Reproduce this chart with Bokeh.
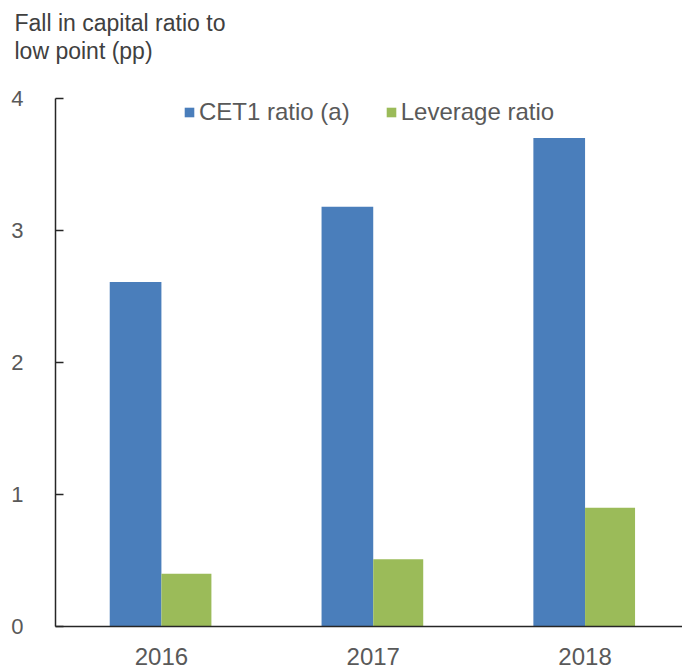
from bokeh.plotting import figure
from bokeh.models import (ColumnDataSource, Range1d, FixedTicker, Legend, LegendItem, Title)
from bokeh.transform import dodge
from bokeh.embed import file_html
from bokeh.resources import INLINE

# ---- data ----
years = ["2016", "2017", "2018"]
cet1_ratio = [2.61, 3.18, 3.70]
leverage_ratio = [0.40, 0.51, 0.90]
y_ticks = [0, 1, 2, 3, 4]
title_text = "Fall in capital ratio to\nlow point (pp)\n"

BLUE = "#4A7EBB"
GREEN = "#9BBB59"
AXIS = "#262626"
TEXT = "#595959"
FONT = "Liberation Sans"

xpos = [i + 0.5 for i in range(len(years))]
src = ColumnDataSource(dict(x=xpos, year=years, cet1=cet1_ratio, lev=leverage_ratio))

p = figure(width=682, height=671, output_backend="svg", toolbar_location=None,
           x_range=Range1d(0, 2.96), y_range=Range1d(0, 4),
           min_border_left=55, min_border_right=0, min_border_top=97, min_border_bottom=45)
p.outline_line_color = None
p.xgrid.visible = False
p.ygrid.visible = False

r1 = p.vbar(x=dodge("x", -0.122, range=p.x_range), top="cet1", width=0.244, source=src,
            fill_color=BLUE, line_color=None)
r2 = p.vbar(x=dodge("x", 0.118, range=p.x_range), top="lev", width=0.236, source=src,
            fill_color=GREEN, line_color=None)

# y axis
ya = p.yaxis[0]
ya.ticker = FixedTicker(ticks=y_ticks)
ya.axis_line_color = AXIS
ya.axis_line_width = 1.5
ya.major_tick_in = 8
ya.major_tick_out = 0
ya.major_tick_line_color = AXIS
ya.major_tick_line_width = 1.5
ya.minor_tick_line_color = None
ya.major_label_text_font = FONT
ya.major_label_text_font_size = "22px"
ya.major_label_text_color = TEXT
ya.major_label_standoff = 32

# x axis
xa = p.xaxis[0]
xa.ticker = FixedTicker(ticks=xpos)
xa.major_label_overrides = {x: y for x, y in zip(xpos, years)}
xa.axis_line_color = AXIS
xa.axis_line_width = 1.5
xa.major_tick_line_color = None
xa.minor_tick_line_color = None
xa.major_label_text_font = FONT
xa.major_label_text_font_size = "24px"
xa.major_label_text_color = TEXT
xa.major_label_standoff = 15

# legend
legend = Legend(items=[LegendItem(label="CET1 ratio (a)", renderers=[r1]),
                       LegendItem(label="Leverage ratio", renderers=[r2])],
                orientation="horizontal", location=(128, 500),
                border_line_color=None, background_fill_alpha=0,
                padding=0, margin=0, spacing=35,
                glyph_width=12, glyph_height=12, label_height=26, label_standoff=4,
                label_text_font=FONT, label_text_font_size="24px", label_text_color=TEXT)
p.add_layout(legend, "center")

# title (two lines, top-left)
t = Title(text=title_text, align="left", offset=-41, standoff=15,
          text_font=FONT, text_font_size="23px", text_font_style="normal",
          text_color="#404040", text_line_height=1.05)
p.add_layout(t, "above")

open("out.html", "w").write(file_html(p, INLINE))
